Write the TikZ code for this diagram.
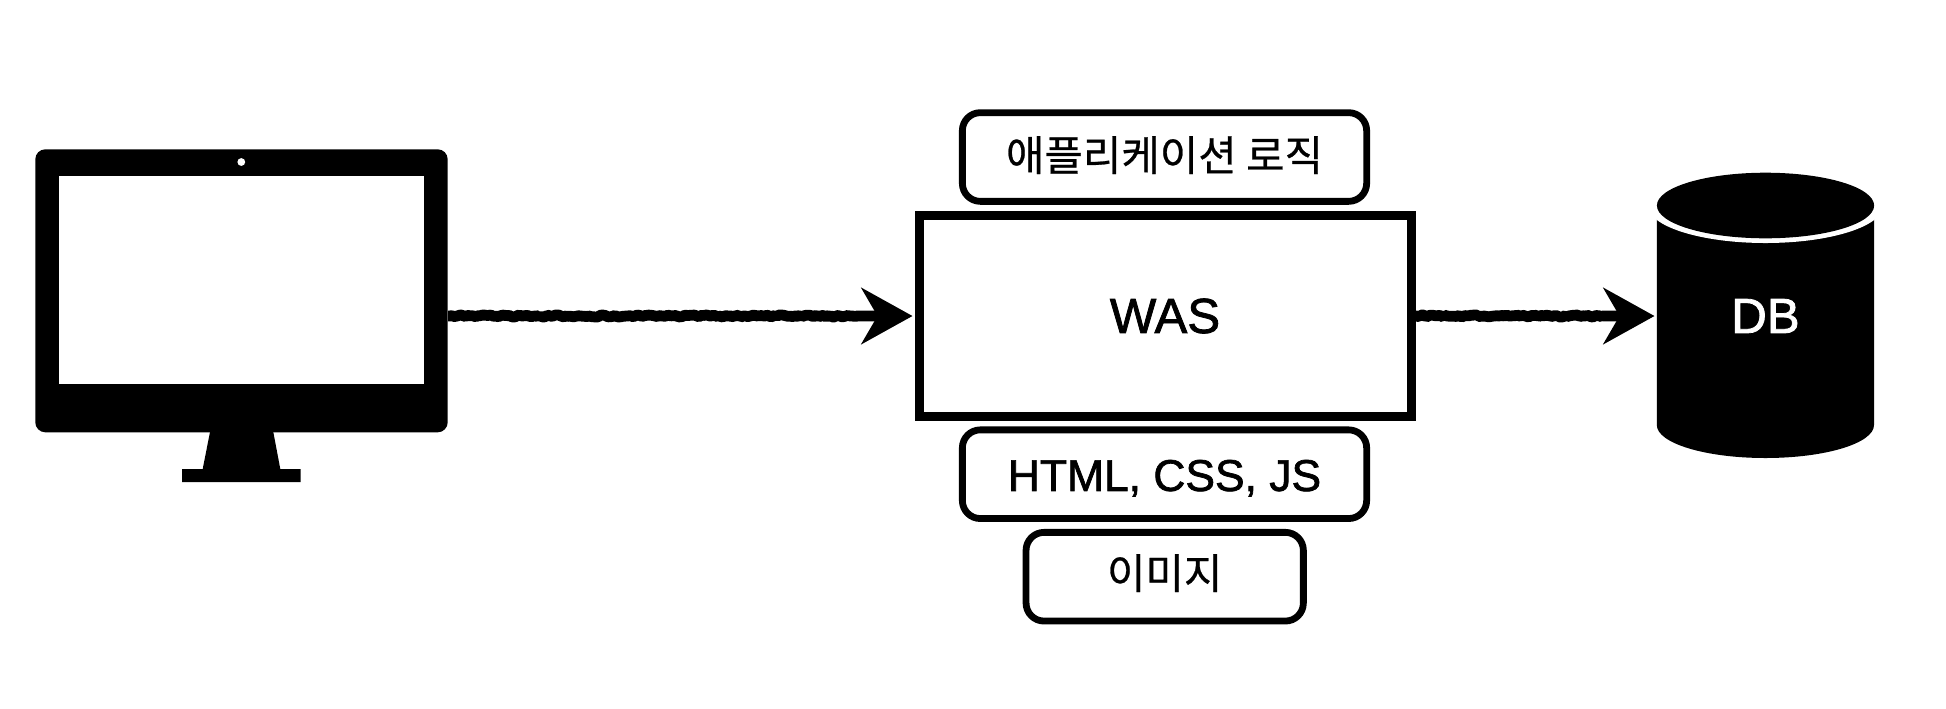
\documentclass[tikz,border=0pt]{standalone}
\usepackage{fontspec}
\usepackage{xcolor}
\usepackage{tikz}
\usetikzlibrary{arrows.meta,decorations.pathmorphing}
\setmainfont{Liberation Sans}
\newfontfamily\fLatin[RawFeature={embolden=1.6}]{Liberation Sans}
\newfontfamily\fHangul[RawFeature={embolden=0.6}]{Noto Sans CJK KR}

\begin{document}
\begin{tikzpicture}[
  x=0.5pt,y=-0.5pt,
  pill/.style={draw=black,fill=white,rounded corners=9pt,line width=3.4pt,
               align=center,inner sep=0pt,minimum height=44.35pt,minimum width=202.15pt},
  srv/.style={draw=black,fill=white,line width=4.5pt,align=center,inner sep=0pt,
              minimum width=246pt,minimum height=100.5pt},
  mon/.style={fill=black,rounded corners=5pt,inner sep=0pt,
              minimum width=206.2pt,minimum height=141.5pt},
  dbn/.style={inner sep=0pt,text=white,minimum width=108.6pt,minimum height=20pt},
  big/.style={font=\fLatin\fontsize{24.6}{28}\selectfont},
  lat/.style={font=\fLatin\fontsize{22.2}{26}\selectfont,text height=16.7pt,text depth=0pt},
  han/.style={font=\fHangul\fontsize{20.9}{24}\selectfont,text height=13.8pt,text depth=0pt},
  rough/.style={-{Stealth[length=25.5pt,width=28pt,inset=8pt]},line width=5.4pt,line join=bevel,
                shorten >=1pt,
                decorate,decoration={random steps,segment length=1.3pt,amplitude=0.55pt,
                pre length=0.5pt,post length=27pt}}
]
\useasboundingbox (0,0) rectangle (1946,708);
\pgfmathsetseed{7}

% ---- monitor
\fill (210,432) -- (273.3,432) -- (280.3,469) -- (300.7,469) -- (300.7,482)
      -- (182,482) -- (182,469) -- (202.7,469) -- cycle;
\node[mon] (monitor) at (241.5,290.8) {};
\node[fill=white,inner sep=0pt,minimum width=182.35pt,minimum height=103.85pt] (screen) at (241.65,280.15) {};
\node[fill=white,circle,inner sep=0pt,minimum size=3.9pt] (camera) at (241.3,162) {};

% ---- servidor
\node[srv,big] (was) at (1165,316) {WAS};
\node[pill,han] (logic) at (1164.5,157) {애플리케이션 로직};
\node[pill,lat] (static) at (1164.5,474.2) {HTML, CSS, JS};
\node[pill,han,text height=12.1pt,minimum width=138.65pt] (image) at (1164.7,576.7) {이미지};

% ---- banco
\fill (1656.8,205) -- (1874,205) -- (1874,425)
      arc[start angle=0,end angle=180,x radius=108.6,y radius=33] -- cycle;
\fill[white] (1765.5,205.5) ellipse[x radius=117.7,y radius=37.5];
\fill (1765.5,205.5) ellipse[x radius=108.6,y radius=32.8];
\node[dbn,big] (db) at (1765.5,316) {DB};

% ---- setas
\draw[rough] (monitor.east |- was.west) -- (was.west);
\draw[rough] (was.east) -- (db.west);
\end{tikzpicture}
\end{document}
